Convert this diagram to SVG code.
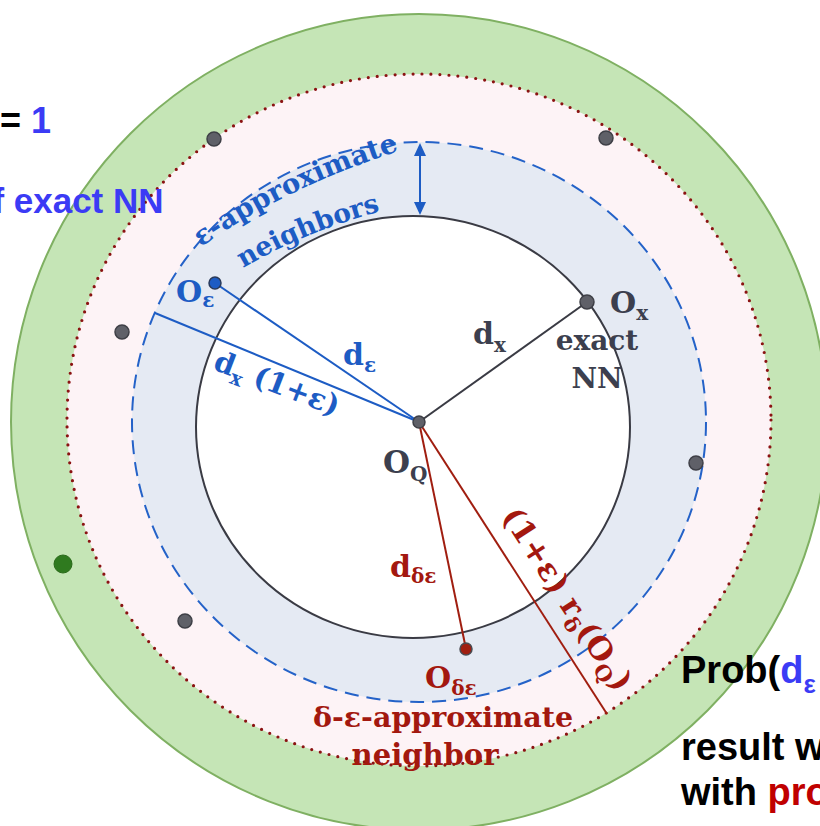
<svg xmlns="http://www.w3.org/2000/svg" width="820" height="826" viewBox="0 0 820 826">
<defs>
<style>
.serif{font-family:"DejaVu Serif","Liberation Serif",serif;font-weight:bold}
.sans{font-family:"Liberation Sans",Arial,sans-serif;font-weight:bold}
.blue{fill:#1d5cc4}
.gray{fill:#3c3f4e}
.red{fill:#a3180f}
.vb{fill:#3b3bf5}
.dot{fill:#5f6068;stroke:#3e3f46;stroke-width:1.5}
.ln{fill:none;stroke-width:2}
</style>
<marker id="ah" viewBox="0 0 13 12" refX="0" refY="6" markerWidth="13" markerHeight="12" markerUnits="userSpaceOnUse" orient="auto-start-reverse"><path d="M0,0 L13,6 L0,12 z" fill="#1d5cc4"/></marker>
<path id="arc1" d="M 201,247 Q 292,183 412,147"/>
<path id="arc2" d="M 243,268 Q 306,231 385,210"/>
</defs>
<rect width="820" height="826" fill="#fff"/>
<g id="rings">
<circle cx="419" cy="422" r="408" fill="#c5e5b6" stroke="#7fb062" stroke-width="2"/>
<ellipse cx="419" cy="420" rx="352" ry="346" fill="#fdf3f6" stroke="#8b1212" stroke-width="3.2" stroke-linecap="round" stroke-dasharray="0 9"/>
<ellipse cx="419" cy="422" rx="287" ry="280" fill="#e5eaf3" stroke="#2462c8" stroke-width="2" stroke-dasharray="14 8"/>
<ellipse cx="413" cy="427" rx="217" ry="211" fill="#fff" stroke="#3a3b44" stroke-width="2"/>
</g>
<g id="connectors">
<line class="ln" x1="419" y1="422" x2="215" y2="283" stroke="#1d5cc4"/>
<line class="ln" x1="419" y1="422" x2="155" y2="313" stroke="#1d5cc4"/>
<line class="ln" x1="419" y1="422" x2="587" y2="302" stroke="#3a3b44"/>
<line class="ln" x1="419" y1="422" x2="466" y2="649" stroke="#a01e10"/>
<line class="ln" x1="419" y1="422" x2="607" y2="714" stroke="#a01e10"/>
<line class="ln" x1="420" y1="156" x2="420" y2="202" stroke="#1d5cc4" marker-start="url(#ah)" marker-end="url(#ah)"/>
</g>
<g id="ring-labels">
<text class="serif blue" font-size="27.5"><textPath href="#arc1">ε-approximate</textPath></text>
<text class="serif blue" font-size="26.5"><textPath href="#arc2">neighbors</textPath></text>
<text class="serif red" font-size="28.5" x="443" y="727" text-anchor="middle">δ-ε-approximate</text>
<text class="serif red" font-size="29" x="425" y="765" text-anchor="middle">neighbor</text>
<text class="serif blue" font-size="29" transform="translate(212,369) rotate(21)">d<tspan font-size="20" dy="7">x</tspan><tspan dy="-7"> (1+ε)</tspan></text>
<text class="serif red" font-size="31" transform="translate(501,516) rotate(57)">(1+ε) r<tspan font-size="21" dy="7">δ</tspan><tspan dy="-7">(O</tspan><tspan font-size="21" dy="7">Q</tspan><tspan dy="-7">)</tspan></text>
</g>
<g id="node-oq">
<circle cx="419" cy="422" r="6" class="dot"/>
<text class="serif gray" font-size="31" x="383" y="473">O<tspan font-size="20" dy="8">Q</tspan></text>
</g>
<g id="node-ox">
<circle cx="587" cy="302" r="7" class="dot"/>
<text class="serif gray" font-size="30" x="610" y="313">O<tspan font-size="20" dy="7">x</tspan></text>
<text class="serif gray" font-size="30" x="473" y="344">d<tspan font-size="20" dy="8">x</tspan></text>
<text class="serif gray" font-size="28" x="597" y="350" text-anchor="middle">exact</text>
<text class="serif gray" font-size="28" x="597" y="388" text-anchor="middle">NN</text>
</g>
<g id="node-oeps">
<circle cx="215" cy="283" r="6" fill="#1d5cc4" stroke="#2a3a5a" stroke-width="1.5"/>
<text class="serif blue" font-size="30" x="176" y="302">O<tspan font-size="20" dy="5">ε</tspan></text>
<text class="serif blue" font-size="30" x="343" y="365">d<tspan font-size="20" dy="7">ε</tspan></text>
</g>
<g id="node-ode">
<circle cx="466" cy="649" r="6" fill="#a01e10" stroke="#4a4a50" stroke-width="1.5"/>
<text class="serif red" font-size="30" x="425" y="688">O<tspan font-size="20" dy="7">δε</tspan></text>
<text class="serif red" font-size="30" x="390" y="577">d<tspan font-size="20" dy="6">δε</tspan></text>
</g>
<g id="points">
<circle cx="214" cy="139" r="7" class="dot"/>
<circle cx="606" cy="138" r="7" class="dot"/>
<circle cx="122" cy="332" r="7" class="dot"/>
<circle cx="696" cy="463" r="7" class="dot"/>
<circle cx="185" cy="621" r="7" class="dot"/>
<circle cx="63" cy="564" r="9" fill="#2f7a1f" stroke="#2a6a1a" stroke-width="1"/>
</g>
<g id="side-text">
<text class="sans" font-size="36" x="0" y="133">= <tspan class="vb">1</tspan></text>
<text class="sans vb" font-size="35" x="-29" y="213">of exact NN</text>
<text class="sans" font-size="38" x="681" y="683">Prob(<tspan class="vb">d<tspan font-size="26" dy="10">ε</tspan></tspan></text>
<text class="sans" font-size="38" x="681" y="760">result w</text>
<text class="sans" font-size="38" x="681" y="805">with <tspan fill="#c00000">pro</tspan></text>
</g>
</svg>
